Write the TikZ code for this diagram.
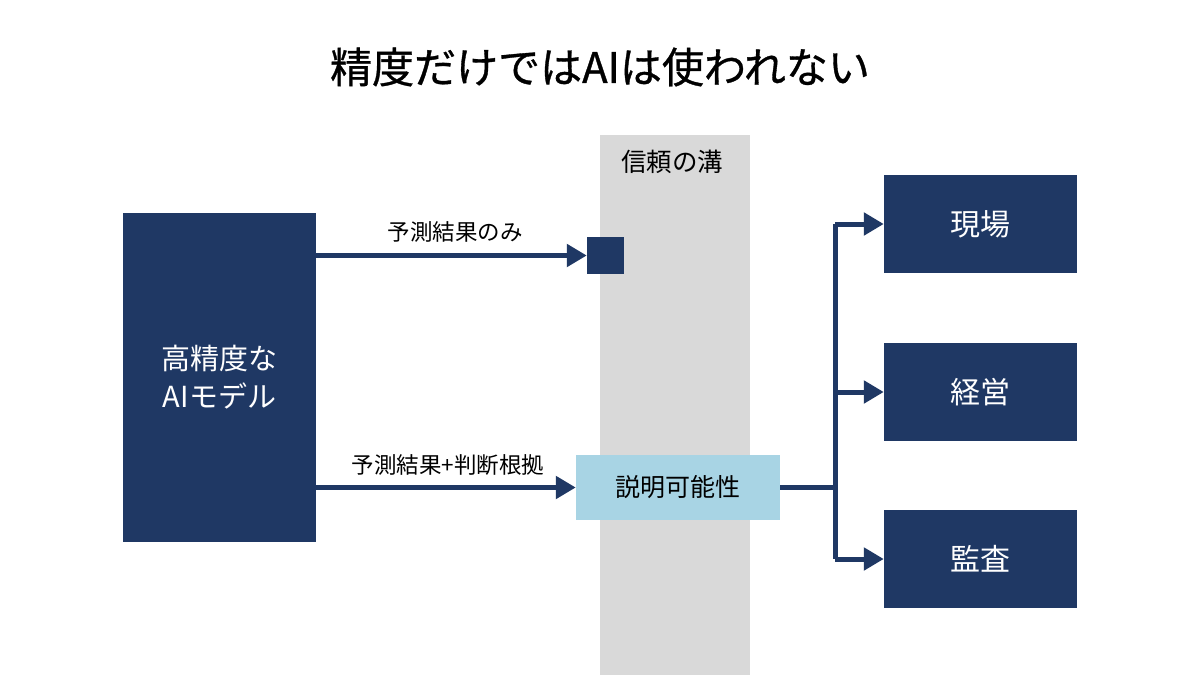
\documentclass[tikz,border=0pt]{standalone}
\usepackage{fontspec}
\setmainfont{Noto Sans CJK JP}[AutoFakeBold=0.8]
\usetikzlibrary{arrows.meta}
\definecolor{navy}{RGB}{31,56,100}
\definecolor{gapgray}{RGB}{217,217,217}
\definecolor{lightblue}{RGB}{168,212,228}
\tikzset{
  navybox/.style={fill=navy, draw=none, text=white, inner sep=0pt, font=\fontsize{30}{38}\selectfont, align=center},
  conn/.style={draw=navy, line width=5pt, line join=miter},
  arr/.style={conn, -{Triangle[length=20pt,width=22pt]}},
  lbl/.style={text=black, inner sep=0pt, font=\fontsize{22.5}{26}\selectfont}
}
\begin{document}
\begin{tikzpicture}[x=1pt,y=-1pt]
\useasboundingbox (0,0) rectangle (1200,675);
\fill[white] (0,0) rectangle (1200,675);
% gap band
\fill[gapgray] (600,135) rectangle (750,675);
\node[lbl, font=\fontsize{25.5}{30}\selectfont] (gaplbl) at (672,162) {信頼の溝};
% title
\node[inner sep=0pt, font=\fontsize{42}{48}\selectfont\bfseries] (title) at (600,67) {精度だけではAIは使われない};
% main model box
\node[navybox, font=\fontsize{29}{38}\selectfont, minimum width=193pt, minimum height=329pt] (model) at (219.5,377.5) {高精度な\\AIモデル};
% small square
\node[fill=navy, inner sep=0pt, minimum width=37pt, minimum height=37pt] (sq) at (605.5,255.5) {};
% explainability box
\node[fill=lightblue, inner sep=0pt, minimum width=204pt, minimum height=65pt, font=\fontsize{25}{30}\selectfont] (expl) at (678,487.5) {説明可能性};
% right boxes
\node[navybox, minimum width=193pt, minimum height=98pt] (genba) at (980.5,224) {現場};
\node[navybox, minimum width=193pt, minimum height=98pt] (keiei) at (980.5,392) {経営};
\node[navybox, minimum width=193pt, minimum height=98pt] (kansa) at (980.5,559) {監査};
% arrows
\draw[arr] (model.east |- sq.west) -- (sq.west);
\node[lbl] (l1) at (455,232) {予測結果のみ};
\draw[arr] (model.east |- expl.west) -- (expl.west);
\node[lbl] (l2) at (448,465) {予測結果+判断根拠};
\coordinate (br) at (835,487.5);
\draw[conn] (expl.east) -- (br);
\draw[conn] (br |- genba.west) -- (br |- kansa.west);
\draw[arr] (br |- genba.west) -- (genba.west);
\draw[arr] (br |- keiei.west) -- (keiei.west);
\draw[arr] (br |- kansa.west) -- (kansa.west);
\end{tikzpicture}
\end{document}
